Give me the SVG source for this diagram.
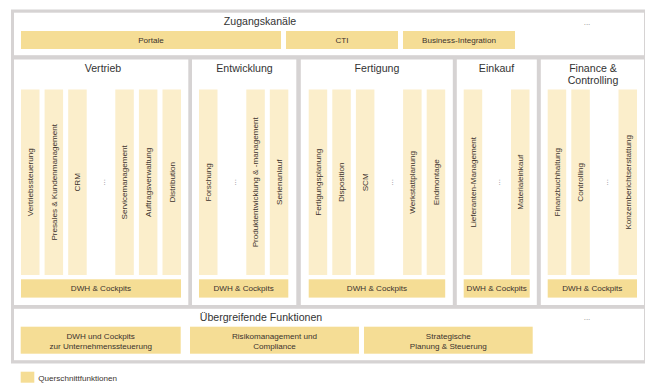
<svg xmlns="http://www.w3.org/2000/svg" width="645" height="383" viewBox="0 0 645 383">
<style>
.frame{fill:#d6d3d3}
.panel{fill:#ffffff}
.dark{fill:#f5dd95}
.light{fill:#fbeecb}
.h{font-family:"Liberation Sans",Arial,sans-serif;font-size:10.6px;fill:#333;text-anchor:middle}
.t{font-family:"Liberation Sans",Arial,sans-serif;font-size:8.1px;fill:#3b322d;text-anchor:middle}
.v{font-family:"Liberation Sans",Arial,sans-serif;font-size:8.1px;fill:#3b322d;text-anchor:middle}
.dots{font-family:"Liberation Sans",Arial,sans-serif;font-size:8px;fill:#8a8a8a;text-anchor:middle}
</style>
<rect x="0" y="0" width="645" height="383" fill="#ffffff"/>
<rect class="frame" x="11" y="9.5" width="636" height="354"/>

<g id="zugangskanaele">
<rect class="panel" x="14" y="12.7" width="630" height="42.5"/>
<text class="h" x="260" y="25">Zugangskanäle</text>
<rect class="dark" x="21" y="31" width="260" height="18"/>
<text class="t" x="151" y="43">Portale</text>
<rect class="dark" x="286" y="31" width="112" height="18"/>
<text class="t" x="342" y="43">CTI</text>
<rect class="dark" x="403" y="31" width="112" height="18"/>
<text class="t" x="459" y="43">Business-Integration</text>
<text class="dots" x="587" y="25">...</text>
</g>

<g id="vertrieb">
<rect class="panel" x="14" y="59.5" width="174.3" height="245.5"/>
<text class="h" x="103" y="72">Vertrieb</text>
<rect class="light" x="21" y="89.5" width="18.5" height="185.5"/>
<rect class="light" x="44.6" y="89.5" width="18.5" height="185.5"/>
<rect class="light" x="68.2" y="89.5" width="18.5" height="185.5"/>
<rect class="light" x="115.3" y="89.5" width="18.5" height="185.5"/>
<rect class="light" x="138.9" y="89.5" width="18.5" height="185.5"/>
<rect class="light" x="162.5" y="89.5" width="18.5" height="185.5"/>
<text class="v" transform="translate(33.1,182.3) rotate(-90)">Vertriebssteuerung</text>
<text class="v" transform="translate(56.7,182.3) rotate(-90)">Presales &amp; Kundenmanagement</text>
<text class="v" transform="translate(80.3,182.3) rotate(-90)">CRM</text>
<text class="dots" transform="translate(105,182.3) rotate(-90)">...</text>
<text class="v" transform="translate(127.4,182.3) rotate(-90)">Servicemanagement</text>
<text class="v" transform="translate(151,182.3) rotate(-90)">Auftragsverwaltung</text>
<text class="v" transform="translate(174.6,182.3) rotate(-90)">Distribution</text>
<rect class="dark" x="21" y="279.3" width="160" height="18.3"/>
<text class="t" x="101" y="291.3">DWH &amp; Cockpits</text>
</g>

<g id="entwicklung">
<rect class="panel" x="192" y="59.5" width="104.3" height="245.5"/>
<text class="h" x="244.5" y="72">Entwicklung</text>
<rect class="light" x="199" y="89.5" width="18.5" height="185.5"/>
<rect class="light" x="246.3" y="89.5" width="18.5" height="185.5"/>
<rect class="light" x="269.8" y="89.5" width="18.5" height="185.5"/>
<text class="v" transform="translate(211.1,182.3) rotate(-90)">Forschung</text>
<text class="dots" transform="translate(235.7,182.3) rotate(-90)">...</text>
<text class="v" transform="translate(258.4,182.3) rotate(-90)">Produktentwicklung &amp; -management</text>
<text class="v" transform="translate(281.9,182.3) rotate(-90)">Serienanlauf</text>
<rect class="dark" x="199" y="279.3" width="89.3" height="18.3"/>
<text class="t" x="243.6" y="291.3">DWH &amp; Cockpits</text>
</g>

<g id="fertigung">
<rect class="panel" x="300.8" y="59.5" width="152" height="245.5"/>
<text class="h" x="377" y="72">Fertigung</text>
<rect class="light" x="308.7" y="89.5" width="18.5" height="185.5"/>
<rect class="light" x="332.3" y="89.5" width="18.5" height="185.5"/>
<rect class="light" x="355.9" y="89.5" width="18.5" height="185.5"/>
<rect class="light" x="403.1" y="89.5" width="18.5" height="185.5"/>
<rect class="light" x="426.7" y="89.5" width="18.5" height="185.5"/>
<text class="v" transform="translate(320.8,182.3) rotate(-90)">Fertigungsplanung</text>
<text class="v" transform="translate(344.4,182.3) rotate(-90)">Disposition</text>
<text class="v" transform="translate(368,182.3) rotate(-90)">SCM</text>
<text class="dots" transform="translate(393.4,182.3) rotate(-90)">...</text>
<text class="v" transform="translate(415.2,182.3) rotate(-90)">Werkstattplanung</text>
<text class="v" transform="translate(438.8,182.3) rotate(-90)">Endmontage</text>
<rect class="dark" x="308.7" y="279.3" width="136.5" height="18.3"/>
<text class="t" x="377" y="291.3">DWH &amp; Cockpits</text>
</g>

<g id="einkauf">
<rect class="panel" x="456.8" y="59.5" width="80" height="245.5"/>
<text class="h" x="496.5" y="72">Einkauf</text>
<rect class="light" x="463.7" y="89.5" width="18.5" height="185.5"/>
<rect class="light" x="511" y="89.5" width="18.5" height="185.5"/>
<text class="v" transform="translate(475.8,182.3) rotate(-90)">Lieferanten-Management</text>
<text class="dots" transform="translate(500,182.3) rotate(-90)">...</text>
<text class="v" transform="translate(523.1,182.3) rotate(-90)">Materialeinkauf</text>
<rect class="dark" x="463.7" y="279.3" width="66" height="18.3"/>
<text class="t" x="496.7" y="291.3">DWH &amp; Cockpits</text>
</g>

<g id="finance-controlling">
<rect class="panel" x="540.8" y="59.5" width="103.2" height="245.5"/>
<text class="h" x="593" y="72">Finance &amp;</text>
<text class="h" x="593" y="84">Controlling</text>
<rect class="light" x="547.7" y="89.5" width="18.5" height="185.5"/>
<rect class="light" x="571.3" y="89.5" width="18.5" height="185.5"/>
<rect class="light" x="618.5" y="89.5" width="18.5" height="185.5"/>
<text class="v" transform="translate(559.8,182.3) rotate(-90)">Finanzbuchhaltung</text>
<text class="v" transform="translate(583.4,182.3) rotate(-90)">Controlling</text>
<text class="dots" transform="translate(607.7,182.3) rotate(-90)">...</text>
<text class="v" transform="translate(630.6,182.3) rotate(-90)">Konzernberichtserstattung</text>
<rect class="dark" x="547.7" y="279.3" width="89.3" height="18.3"/>
<text class="t" x="592.3" y="291.3">DWH &amp; Cockpits</text>
</g>

<g id="uebergreifende-funktionen">
<rect class="panel" x="14" y="308.8" width="630" height="51.4"/>
<text class="h" x="261" y="320.5">Übergreifende Funktionen</text>
<rect class="dark" x="20.7" y="326.7" width="160" height="27"/>
<text class="t" x="100.7" y="338.6">DWH und Cockpits</text>
<text class="t" x="100.7" y="349">zur Unternehmenssteuerung</text>
<rect class="dark" x="190" y="326.7" width="169" height="27"/>
<text class="t" x="274.5" y="338.6">Risikomanagement und</text>
<text class="t" x="274.5" y="349">Compliance</text>
<rect class="dark" x="364" y="326.7" width="168.7" height="27"/>
<text class="t" x="448.3" y="338.6">Strategische</text>
<text class="t" x="448.3" y="349">Planung &amp; Steuerung</text>
<text class="dots" x="587" y="320">...</text>
</g>

<g id="legende">
<rect class="dark" x="20.7" y="371.7" width="13.6" height="11"/>
<text class="t" x="38.3" y="381.2" style="text-anchor:start">Querschnittfunktionen</text>
</g>

<g id="connectors"></g>
</svg>
